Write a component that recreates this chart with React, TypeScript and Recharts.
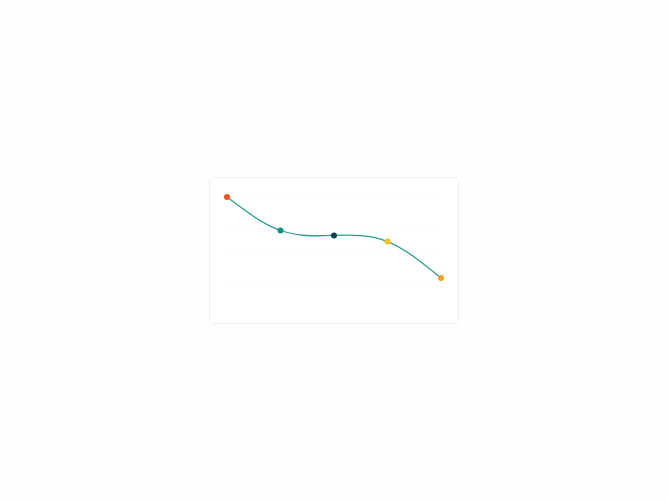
import { LineChart, Line, XAxis, YAxis, CartesianGrid } from 'recharts';

const categories = ['A', 'B', 'C', 'D', 'E'];
const values = [29, 18.1, 16.5, 14.5, 2.6];
const dotColors = ['#e8561e', '#14907f', '#0f3d53', '#f4c21c', '#f5a11c'];
const yTicks = [0, 10, 20, 30];

const LINE_COLOR = '#2a9d95';

const data = categories.map((name, i) => ({ name, value: values[i] }));

function ColoredDot(props: any) {
  const { cx, cy, index } = props;
  if (cx == null || cy == null) return null;
  return <circle key={`dot-${index}`} cx={cx} cy={cy} r={3} fill={dotColors[index]} stroke="none" />;
}

export default function App() {
  return (
    <div style={{ position: 'fixed', left: 0, top: 0, width: '100%', height: '100%', background: '#fefefe' }}>
      <div
        style={{
          position: 'absolute',
          left: 209,
          top: 177,
          width: 248,
          height: 145,
          background: '#ffffff',
          border: '1px solid #f0f0f0',
          borderRadius: 5,
        }}
      >
        <LineChart
          width={248}
          height={145}
          data={data}
          margin={{ top: 16, right: 17, left: 17, bottom: 37 }}
        >
          <CartesianGrid vertical={false} stroke="#fafafa" />
          <XAxis
            dataKey="name"
            height={0}
            tick={false}
            tickLine={false}
            axisLine={{ stroke: '#f0f0f0' }}
          />
          <YAxis hide domain={[0, 30]} ticks={yTicks} />
          <Line
            type="natural"
            dataKey="value"
            stroke={LINE_COLOR}
            strokeWidth={1.3}
            dot={ColoredDot}
            activeDot={false}
            isAnimationActive={false}
          />
        </LineChart>
      </div>
    </div>
  );
}
